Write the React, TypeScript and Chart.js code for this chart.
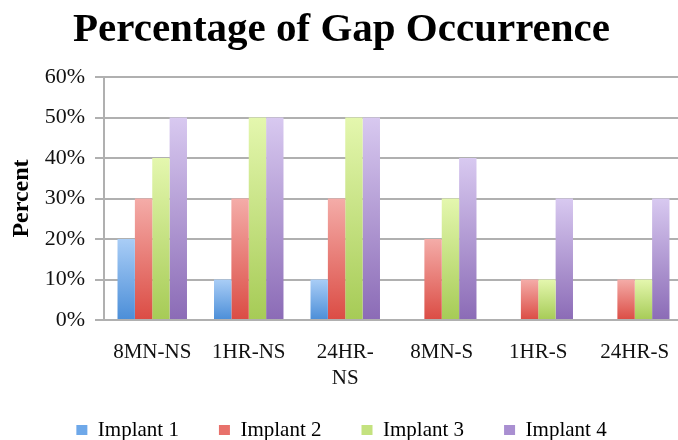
import React, { useEffect, useRef } from 'react';
import { Chart, registerables } from 'chart.js';

Chart.register(...registerables);

const categories: (string | string[])[] = ['8MN-NS', '1HR-NS', ['24HR-', 'NS'], '8MN-S', '1HR-S', '24HR-S'];
const seriesNames = ['Implant 1', 'Implant 2', 'Implant 3', 'Implant 4'];
const implant1 = [20, 10, 10, 0, 0, 0];
const implant2 = [30, 30, 30, 20, 10, 10];
const implant3 = [40, 50, 50, 30, 10, 10];
const implant4 = [50, 50, 50, 40, 30, 30];
const yTickValues = [0, 10, 20, 30, 40, 50, 60];

const palette = [
  { top: '#a9cdf6', bottom: '#4b8ed8', legend: '#6ea8e9' },
  { top: '#f4aca8', bottom: '#db4c44', legend: '#e8716b' },
  { top: '#e4f7ae', bottom: '#a6cb56', legend: '#c4e27f' },
  { top: '#d8c9f0', bottom: '#8b6bb6', legend: '#a98fd1' },
];

const FONT = "'Liberation Serif', 'Times New Roman', serif";

function gradientFill(top: string, bottom: string) {
  return (ctx: any) => {
    const chart = ctx.chart;
    const ys = chart.scales && chart.scales.y;
    if (!ys || ctx.type !== 'data') return bottom;
    const v = ctx.raw as number;
    const y0 = ys.getPixelForValue(0);
    const y1 = ys.getPixelForValue(v);
    if (!isFinite(y0) || !isFinite(y1) || y0 === y1) return bottom;
    const g = chart.ctx.createLinearGradient(0, y1, 0, y0);
    g.addColorStop(0, top);
    g.addColorStop(1, bottom);
    return g;
  };
}

export default function App() {
  const ref = useRef<HTMLCanvasElement | null>(null);

  useEffect(() => {
    if (!ref.current) return;
    const values = [implant1, implant2, implant3, implant4];
    const chart = new Chart(ref.current, {
      type: 'bar',
      data: {
        labels: categories as any,
        datasets: values.map((d, i) => ({
          label: seriesNames[i],
          data: d,
          backgroundColor: gradientFill(palette[i].top, palette[i].bottom) as any,
          borderWidth: 0,
          categoryPercentage: 0.72,
          barPercentage: 1.0,
        })),
      },
      options: {
        responsive: false,
        animation: false,
        devicePixelRatio: 1,
        layout: { padding: { left: 0, right: 7, top: 0, bottom: -10.5 } },
        plugins: {
          title: {
            display: true,
            text: 'Percentage of Gap Occurrence',
            color: '#000',
            font: { family: FONT, size: 41, weight: 'bold', lineHeight: 1.2 },
            padding: { top: 5.5, bottom: 22.3 },
          },
          legend: {
            position: 'bottom',
            labels: {
              color: '#111',
              font: { family: FONT, size: 21 },
              boxWidth: 11,
              boxHeight: 10,
              padding: 40,
              generateLabels: () =>
                seriesNames.map((n, i) => ({
                  text: n,
                  fillStyle: palette[i].legend,
                  strokeStyle: palette[i].legend,
                  lineWidth: 0,
                  hidden: false,
                  datasetIndex: i,
                })),
            },
          },
          tooltip: { enabled: false },
        },
        scales: {
          x: {
            grid: { display: false },
            border: { display: true, color: '#b0b0b0', width: 2 },
            ticks: {
              color: '#111',
              font: { family: FONT, size: 21, lineHeight: 1.24 },
              padding: 11,
              maxRotation: 0,
              autoSkip: false,
            },
            afterFit: (s: any) => {
              s.height = 59.5;
              // let the two-line tick label extend below the (short) axis box
              s._computeLabelArea = () => undefined;
            },
          },
          y: {
            min: 0,
            max: 60,
            afterBuildTicks: (s: any) => {
              s.ticks = yTickValues.map((v) => ({ value: v }));
            },
            grid: { color: '#b0b0b0', lineWidth: 2, tickLength: 9, drawTicks: true },
            border: { display: true, color: '#b0b0b0', width: 2 },
            ticks: {
              color: '#111',
              font: { family: FONT, size: 22 },
              padding: 10,
              callback: (v: any) => v + '%',
            },
            title: {
              display: true,
              text: 'Percent',
              color: '#000',
              font: { family: FONT, size: 24, weight: 'bold' },
              padding: { top: 7, bottom: 0 },
            },
            afterFit: (s: any) => {
              s.width = 104;
            },
          },
        },
      },
    });
    return () => chart.destroy();
  }, []);

  return (
    <div style={{ position: 'fixed', left: 0, top: 0, width: 678, height: 440, overflow: 'hidden', background: '#fff' }}>
      <canvas ref={ref} width={690} height={440} style={{ width: 690, height: 440, display: 'block' }} />
    </div>
  );
}
